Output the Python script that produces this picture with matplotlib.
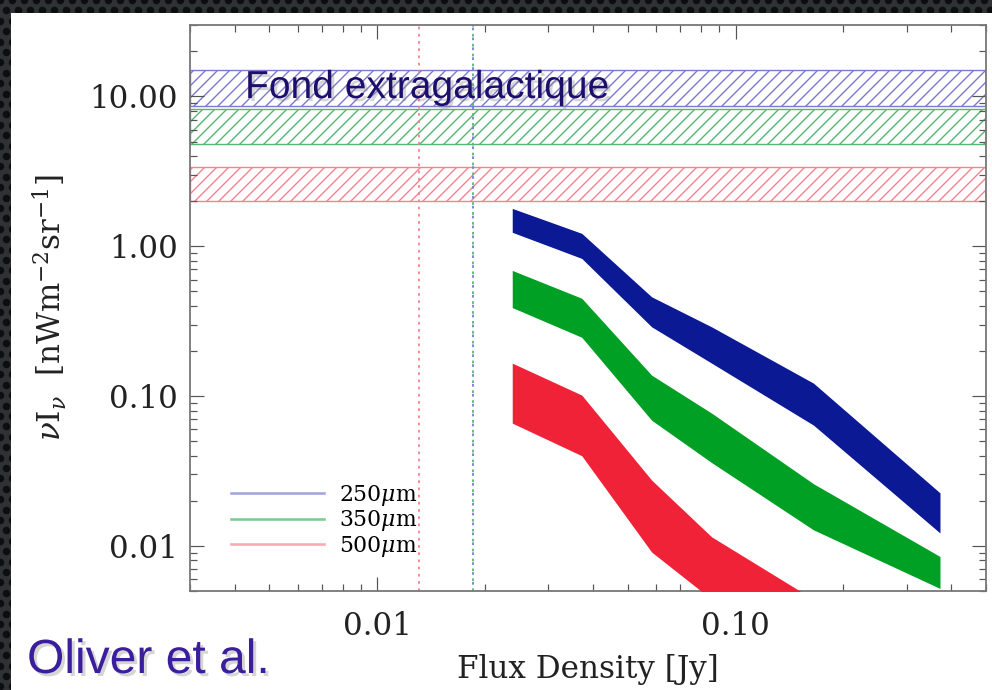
import matplotlib
matplotlib.use('Agg')
import matplotlib.pyplot as plt
import matplotlib.patheffects as pe
from matplotlib.patches import Rectangle
from matplotlib.lines import Line2D
from matplotlib.ticker import LogLocator, FormatStrFormatter, NullFormatter
import numpy as np

# SPIRE bands
bands = ['250', '350', '500']

# resolved background, nW m^-2 sr^-1, vs flux-density cut (Jy)
flux = [0.0238, 0.0372, 0.0583, 0.0857, 0.165, 0.372]
upper = {
    '250': [1.79, 1.22, 0.46, 0.29, 0.122, 0.0226],
    '350': [0.69, 0.45, 0.138, 0.077, 0.026, 0.0085],
    '500': [0.166, 0.1016, 0.0275, 0.0115, 0.0044, 0.0012],
}
lower = {
    '250': [1.24, 0.83, 0.29, 0.166, 0.064, 0.0122],
    '350': [0.39, 0.247, 0.069, 0.036, 0.0128, 0.0052],
    '500': [0.066, 0.040, 0.0091, 0.0044, 0.0018, 0.0005],
}

# total extragalactic background (hatched)
cib_lo = [8.7, 4.8, 2.0]
cib_hi = [15.0, 8.2, 3.4]

# confusion limits per band (Jy)
conf_lim = [0.0185, 0.0185, 0.0131]

fill_col = ['#0b1a94', '#00a024', '#ef2238']
hatch_col = ['#7a7ad0', '#55b771', '#f4828f']
leg_col = ['#a4a4e2', '#7ccc92', '#f9a9b6']

plt.rcParams['hatch.linewidth'] = 0.7
plt.rcParams['mathtext.fontset'] = 'dejavuserif'
plt.rcParams['font.family'] = 'DejaVu Serif'

W, H, DPI = 992, 690, 144
fig = plt.figure(figsize=(W / DPI, H / DPI), dpi=DPI)
fig.patch.set_facecolor('#2f3235')

# textured dark frame + white card
bg = fig.add_axes([0, 0, 1, 1], zorder=-10)
bg.set_xlim(0, W)
bg.set_ylim(H, 0)
bg.axis('off')
gx, gy = np.meshgrid(np.arange(0, W + 12, 12.0), np.arange(0, H + 12, 10.4))
gx[1::2] += 6
bg.scatter(gx.ravel(), gy.ravel(), s=14, color='#0c0e10', lw=0)
bg.add_patch(Rectangle((11, 13), W - 11, H - 13, fc='white', ec='none'))

ax = fig.add_axes([190 / W, 1 - 591 / H, 796 / W, 566 / H])
ax.set_xscale('log')
ax.set_yscale('log')
ax.set_xlim(0.003, 0.5)
ax.set_ylim(0.005, 30)

for i, b in enumerate(bands):
    ax.axhspan(cib_lo[i], cib_hi[i], facecolor='none', edgecolor=hatch_col[i],
               hatch='////', linewidth=0.7, zorder=1)

ax.axvline(conf_lim[2], color=hatch_col[2], ls=(0, (1.5, 2.5)), lw=0.9, zorder=1)
ax.axvline(conf_lim[1], color=hatch_col[1], ls=(0, (1.5, 4)), lw=0.9, zorder=1)
ax.axvline(conf_lim[0], color=hatch_col[0], ls=(2, (1.5, 4)), lw=0.9, zorder=1)

for i, b in enumerate(bands):
    ax.fill_between(flux, lower[b], upper[b], color=fill_col[i], lw=0, zorder=3)

handles = [Line2D([], [], color=leg_col[i], lw=1.3) for i in range(3)]
ax.legend(handles, [b + r'$\mu$m' for b in bands], loc='lower left',
          bbox_to_anchor=(0.027, 0.022), frameon=False, fontsize=11,
          handlelength=4.2, handletextpad=0.7, labelspacing=0.02)

for a in (ax.xaxis, ax.yaxis):
    a.set_major_locator(LogLocator(base=10))
    a.set_minor_locator(LogLocator(base=10, subs=np.arange(2, 10)))
    a.set_major_formatter(FormatStrFormatter('%.2f'))
    a.set_minor_formatter(NullFormatter())

ax.tick_params(which='both', direction='in', top=True, right=True,
               colors='#555555', labelcolor='#222222', labelsize=15.5)
ax.tick_params(which='major', length=7, width=0.6)
ax.tick_params(which='minor', length=3.5, width=0.6)
ax.tick_params(axis='x', pad=10)
ax.tick_params(axis='y', pad=6)
for s in ax.spines.values():
    s.set_color('#777777')
    s.set_linewidth(0.9)

ax.set_xlabel('Flux Density [Jy]', fontsize=15.5, color='#222222', labelpad=6)
ax.set_ylabel(r'$\nu$I$_\nu$  [nWm$^{-2}$sr$^{-1}$]', fontsize=15.5, color='#222222',
              labelpad=10)

shadow = [pe.withSimplePatchShadow(offset=(1.5, -1.5), shadow_rgbFace='#777777', alpha=0.3)]
fig.text(245 / W, 1 - 98 / H, 'Fond extragalactique', family='Liberation Sans',
         fontsize=19.5, color='#1d0e6c', va='baseline', path_effects=shadow, zorder=5)
fig.text(27 / W, 1 - 673 / H, 'Oliver et al.', family='Liberation Sans',
         fontsize=24, color='#3b1e9c', va='baseline', path_effects=shadow, zorder=5)

fig.savefig('out.png', dpi=DPI, facecolor=fig.get_facecolor())
